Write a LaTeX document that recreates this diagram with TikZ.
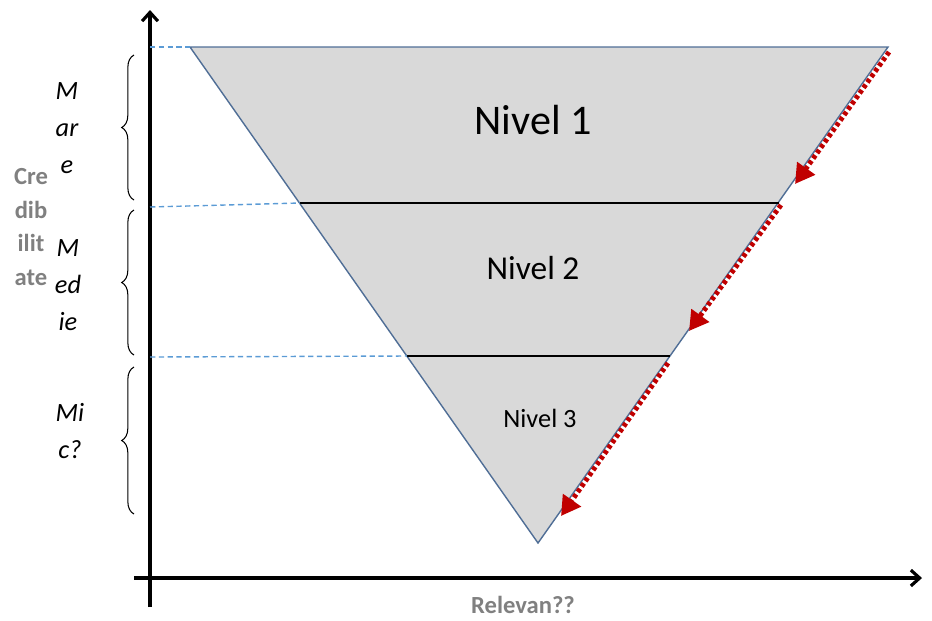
\documentclass[tikz,border=0pt]{standalone}
\usepackage{fontspec}
\setmainfont{Carlito}
\usetikzlibrary{arrows.meta,decorations.pathreplacing}
\definecolor{tri}{RGB}{217,217,217}
\definecolor{edge}{RGB}{80,110,150}
\definecolor{dash}{RGB}{91,155,213}
\definecolor{redarr}{RGB}{192,0,0}
\definecolor{greytxt}{RGB}{128,128,128}
\begin{document}
\begin{tikzpicture}[x=0.02cm,y=-0.02cm,
  axis/.style={line width=1.8pt,-{Straight Barb[length=5pt,width=9pt]}},
  lvl/.style={draw=black,line width=0.6pt},
  bluedash/.style={draw=dash,dashed,dash pattern=on 3pt off 2pt,line width=0.8pt},
  redflow/.style={draw=redarr,line width=2.8pt,dash pattern=on 2.2pt off 1.6pt,-{Triangle[length=11pt,width=12pt]}},
  brc/.style={decorate,decoration={brace,amplitude=7pt},line width=0.6pt},
  sidelbl/.style={font=\itshape\fontsize{15}{15}\selectfont,align=center},
  greylbl/.style={text=greytxt,font=\bfseries\fontsize{14}{14}\selectfont}]
\useasboundingbox (0,0) rectangle (932,620);
% triangle
\coordinate (tl) at (190,47);
\coordinate (tr) at (888,47);
\coordinate (bt) at (538,543);
\fill[tri] (tl) -- (tr) -- (bt) -- cycle;
\draw[edge,line width=0.8pt] (tl) -- (tr) -- (bt) -- cycle;
% level lines
\coordinate (l1a) at (300,203);
\coordinate (l1b) at (779,203);
\coordinate (l2a) at (407,356);
\coordinate (l2b) at (670,356);
\draw[lvl] (l1a) -- (l1b);
\draw[lvl] (l2a) -- (l2b);
% axes
\coordinate (yb) at (150,607);
\coordinate (yt) at (150,10);
\coordinate (xl) at (134,578);
\coordinate (xr) at (922,578);
\draw[axis] (yb) -- (yt);
\draw[axis] (xl) -- (xr);
% blue dashed
\coordinate (d0) at (150,47);
\coordinate (d1) at (150,207);
\coordinate (d2) at (150,357);
\draw[bluedash] (d0) -- (tl);
\draw[bluedash] (d1) -- (l1a);
\draw[bluedash] (d2) -- (l2a);
% braces
\coordinate (b1t) at (134,55);
\coordinate (b1b) at (134,200);
\coordinate (b2t) at (134,210);
\coordinate (b2b) at (134,355);
\coordinate (b3t) at (134,367);
\coordinate (b3b) at (134,514);
\draw[brc] (b1b) -- (b1t);
\draw[brc] (b2b) -- (b2t);
\draw[brc] (b3b) -- (b3t);
% labels
\node[sidelbl] (m1) at (67,128) {M\\[6pt]ar\\[6pt]e};
\node[sidelbl] (m2) at (68,285) {M\\[6pt]ed\\[6pt]ie};
\node[sidelbl] (m3) at (70,431) {Mi\\[6pt]c?};
\node[greylbl,align=center] (cred) at (31,227) {Cre\\[5pt]dib\\[5pt]ilit\\[5pt]ate};
\node[font=\fontsize{24}{24}\selectfont] (n1) at (533,120) {Nivel 1};
\node[font=\fontsize{19}{19}\selectfont] (n2) at (533,268) {Nivel 2};
\node[font=\fontsize{15}{15}\selectfont] (n3) at (540,418) {Nivel 3};
\node[greylbl] (rel) at (523,605) {Relevan??};
% red arrows
\coordinate (r1a) at (889,52);
\coordinate (r1b) at (795,184);
\coordinate (r2a) at (781,205);
\coordinate (r2b) at (689,331);
\coordinate (r3a) at (668,363);
\coordinate (r3b) at (561,516);
\draw[redflow] (r1a) -- (r1b);
\draw[redflow] (r2a) -- (r2b);
\draw[redflow] (r3a) -- (r3b);
\end{tikzpicture}
\end{document}
